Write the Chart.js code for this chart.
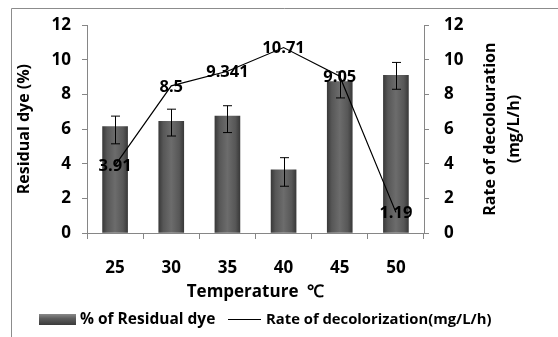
<!DOCTYPE html>
<html>
<head>
<meta charset="utf-8">
<script src="https://cdn.jsdelivr.net/npm/chart.js@4.4.0/dist/chart.umd.min.js"></script>
<style>
  body { margin: 0; background: #fff; }
  #wrap { width: 558px; height: 337px; position: relative; }
</style>
</head>
<body>
<div id="wrap"><canvas id="chart"></canvas></div>
<script>
// data
const temperatures = ["25", "30", "35", "40", "45", "50"];
const residualDye = [6.15, 6.45, 6.75, 3.65, 8.75, 9.1];
const residualLow = [5.15, 5.6, 5.8, 2.7, 7.8, 8.3];
const residualHigh = [6.75, 7.15, 7.35, 4.35, 9.3, 9.85];
const decolorRate = [3.91, 8.5, 9.341, 10.71, 9.05, 1.19];
const rateLabels = ["3.91", "8.5", "9.341", "10.71", "9.05", "1.19"];
const yTicks = [0, 2, 4, 6, 8, 10, 12];
const legendNames = ["% of Residual dye", "Rate of decolorization(mg/L/h)"];

const FONT = "'Open Sans', sans-serif";
const AXIS = "#868686";

function barGradient(ctx, x0, x1) {
    const g = ctx.createLinearGradient(x0, 0, x1, 0);
    g.addColorStop(0, "#3a3a3a");
    g.addColorStop(0.18, "#575757");
    g.addColorStop(0.5, "#6c6c6c");
    g.addColorStop(0.82, "#575757");
    g.addColorStop(1, "#3a3a3a");
    return g;
}

// frame, legend and right axis title (reads bottom to top)
const framePlugin = {
    id: "frame",
    beforeDraw(chart) {
        const c = chart.ctx;
        c.save();
        c.strokeStyle = "#8c8c8c";
        c.lineWidth = 1;
        c.beginPath();
        c.moveTo(11.5, 337);
        c.lineTo(11.5, 8.5);
        c.lineTo(558, 8.5);
        c.stroke();
        c.restore();
    },
    afterDraw(chart) {
        const c = chart.ctx;
        const a = chart.chartArea;
        c.save();
        c.fillStyle = "#000";
        c.textBaseline = "middle";

        // legend
        const ly = 319.5;
        const g = c.createLinearGradient(0, ly - 5.5, 0, ly + 5.5);
        g.addColorStop(0, "#8a8a8a");
        g.addColorStop(0.4, "#5e5e5e");
        g.addColorStop(1, "#3a3a3a");
        c.fillStyle = g;
        c.fillRect(39, ly - 5.5, 37, 11);
        c.strokeStyle = "#000";
        c.lineWidth = 1.2;
        c.beginPath();
        c.moveTo(228, ly); c.lineTo(261, ly);
        c.stroke();
        c.fillStyle = "#000";
        c.font = "bold 15.5px " + FONT;
        c.textAlign = "left";
        c.fillText(legendNames[0], 80, ly);
        c.font = "bold 14.8px " + FONT;
        c.fillText(legendNames[1], 266, ly);

        // right axis title
        c.translate(501, (a.top + a.bottom) / 2);
        c.rotate(-Math.PI / 2);
        c.font = "bold 16px " + FONT;
        c.textAlign = "center";
        c.fillText("Rate of decolouration", 0, -11);
        c.fillText("(mg/L/h)", 0, 13);
        c.restore();
    }
};

// error bars and value labels
const extrasPlugin = {
    id: "extras",
    afterDatasetsDraw(chart) {
        const c = chart.ctx;
        const x = chart.scales.x, y = chart.scales.y, y1 = chart.scales.y1;
        c.save();
        c.strokeStyle = "#000";
        c.lineWidth = 1;
        residualDye.forEach((v, i) => {
            const px = Math.round(x.getPixelForValue(i)) + 0.5;
            const top = y.getPixelForValue(residualHigh[i]);
            const bot = y.getPixelForValue(residualLow[i]);
            c.beginPath();
            c.moveTo(px, top); c.lineTo(px, bot);
            c.moveTo(px - 4.5, top); c.lineTo(px + 4.5, top);
            c.moveTo(px - 4.5, bot); c.lineTo(px + 4.5, bot);
            c.stroke();
        });
        c.fillStyle = "#000";
        c.font = "bold 16.5px " + FONT;
        c.textAlign = "center";
        c.textBaseline = "middle";
        decolorRate.forEach((v, i) => {
            c.fillText(rateLabels[i], x.getPixelForValue(i), y1.getPixelForValue(v) + 1);
        });
        c.restore();
    }
};

new Chart(document.getElementById("chart"), {
    type: "bar",
    data: {
        labels: temperatures,
        datasets: [
            {
                type: "bar",
                label: legendNames[0],
                data: residualDye,
                yAxisID: "y",
                order: 1,
                barThickness: 25,
                backgroundColor: function (context) {
                    const chart = context.chart;
                    const xs = chart.scales.x;
                    if (!xs || context.dataIndex === undefined) return "#555";
                    const cx = xs.getPixelForValue(context.dataIndex);
                    if (!isFinite(cx)) return "#555";
                    return barGradient(chart.ctx, cx - 12.5, cx + 12.5);
                },
                borderWidth: 0
            },
            {
                type: "line",
                label: legendNames[1],
                data: decolorRate,
                yAxisID: "y1",
                order: 0,
                borderColor: "#000",
                borderWidth: 1.2,
                pointRadius: 0,
                tension: 0,
                fill: false
            }
        ]
    },
    options: {
        responsive: true,
        maintainAspectRatio: false,
        animation: false,
        events: [],
        layout: { padding: { top: 23, left: 0, right: 0, bottom: 0 } },
        plugins: {
            tooltip: { enabled: false },
            legend: { display: false }
        },
        scales: {
            x: {
                grid: { drawOnChartArea: false, offset: true, color: AXIS, tickLength: 6 },
                border: { color: AXIS },
                ticks: { color: "#000", padding: 19, font: { family: FONT, size: 17, weight: "bold" } },
                title: {
                    display: true,
                    text: "Temperature  \u2103",
                    color: "#000",
                    padding: { top: 0, bottom: 35 },
                    font: { family: FONT, size: 17, weight: "bold" }
                },
                afterFit: function (s) { s.height = 104; }
            },
            y: {
                position: "left",
                min: 0, max: 12,
                afterBuildTicks: function (s) { s.ticks = yTicks.map(v => ({ value: v })); },
                grid: { drawOnChartArea: false, color: AXIS, tickLength: 5 },
                border: { color: AXIS },
                ticks: { color: "#000", padding: 11, font: { family: FONT, size: 17, weight: "bold" } },
                title: {
                    display: true,
                    text: "Residual dye (%)",
                    color: "#000",
                    padding: { top: 15, bottom: 0 },
                    font: { family: FONT, size: 16, weight: "bold" }
                },
                afterFit: function (s) { s.width = 87; }
            },
            y1: {
                position: "right",
                min: 0, max: 12,
                afterBuildTicks: function (s) { s.ticks = yTicks.map(v => ({ value: v })); },
                grid: { drawOnChartArea: false, color: AXIS, tickLength: 5 },
                border: { color: AXIS },
                ticks: { color: "#000", padding: 15, font: { family: FONT, size: 17, weight: "bold" } },
                afterFit: function (s) { s.width = 134; }
            }
        }
    },
    plugins: [framePlugin, extrasPlugin]
});
</script>
</body>
</html>
